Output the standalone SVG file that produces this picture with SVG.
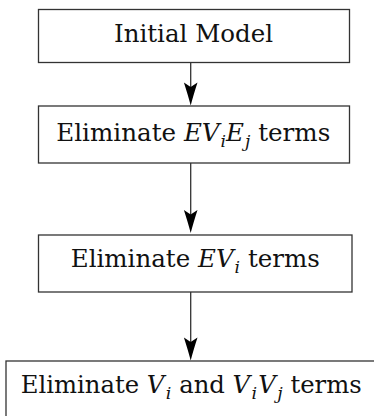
<svg xmlns="http://www.w3.org/2000/svg" width="374" height="416" viewBox="0 0 374 416">
  <style>
    .box { fill: #ffffff; stroke: #333333; stroke-width: 1.3; }
    .lbl { font-family: 'DejaVu Serif', 'Liberation Serif', serif; font-size: 25px; fill: #111111; text-anchor: middle; }
    .it { font-style: italic; }
    .sub { font-style: italic; font-size: 17.5px; }
    .conn { stroke: #333333; stroke-width: 1.3; fill: none; marker-end: url(#arrow); }
  </style>
  <defs>
    <marker id="arrow" markerUnits="userSpaceOnUse" markerWidth="26" markerHeight="16" viewBox="-25 -8 26 16" refX="-18" refY="0" orient="auto">
      <path d="M0,0 Q-10,2.6 -23,6.8 L-18.5,0 L-23,-6.8 Q-10,-2.6 0,0 Z" fill="#000000"/>
    </marker>
  </defs>
  <rect width="374" height="416" fill="#ffffff"/>

  <g id="connectors">
    <line class="conn" x1="190.7" y1="62.5" x2="190.7" y2="87.5"/>
    <line class="conn" x1="190.7" y1="163" x2="190.7" y2="215"/>
    <line class="conn" x1="190.7" y1="292" x2="190.7" y2="342.5"/>
  </g>

  <g id="node-initial">
    <rect class="box" x="38.5" y="9.5" width="311" height="53"/>
    <text class="lbl" x="193.5" y="41.5" textLength="159" lengthAdjust="spacingAndGlyphs">Initial Model</text>
  </g>

  <g id="node-evej">
    <rect class="box" x="38.5" y="106" width="311" height="57"/>
    <text class="lbl" x="193.3" y="140.5" textLength="274" lengthAdjust="spacingAndGlyphs">Eliminate <tspan class="it">EV</tspan><tspan class="sub" dx="1" dy="6">i</tspan><tspan class="it" dy="-6">E</tspan><tspan class="sub" dx="1" dy="6">j</tspan><tspan dy="-6"> terms</tspan></text>
  </g>

  <g id="node-ev">
    <rect class="box" x="38.5" y="235" width="313.5" height="57"/>
    <text class="lbl" x="195.3" y="267" textLength="249" lengthAdjust="spacingAndGlyphs">Eliminate <tspan class="it">EV</tspan><tspan class="sub" dx="1" dy="6">i</tspan><tspan dy="-6"> terms</tspan></text>
  </g>

  <g id="node-vv">
    <rect class="box" x="6" y="361" width="372" height="60"/>
    <text class="lbl" x="191.2" y="393.3" style="font-size:24.3px">Eliminate <tspan class="it">V</tspan><tspan class="sub" dx="1.5" dy="6">i</tspan><tspan dy="-6"> and </tspan><tspan class="it">V</tspan><tspan class="sub" dx="1.5" dy="6">i</tspan><tspan class="it" dx="1" dy="-6">V</tspan><tspan class="sub" dx="1.5" dy="6">j</tspan><tspan dy="-6"> terms</tspan></text>
  </g>
</svg>
